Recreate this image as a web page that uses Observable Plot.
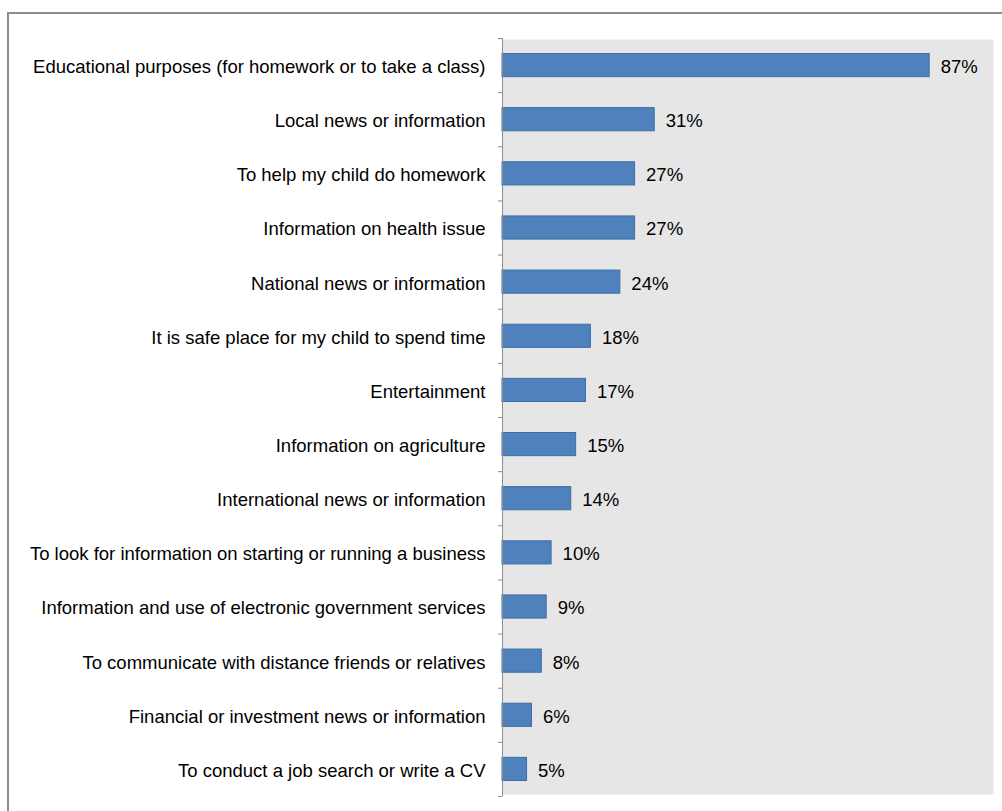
<!DOCTYPE html>
<html>
<head>
<meta charset="utf-8">
<script src="https://cdn.jsdelivr.net/npm/d3@7"></script>
<script src="https://cdn.jsdelivr.net/npm/@observablehq/plot@0.6"></script>
<style>
  html, body { margin: 0; padding: 0; background: #fff; overflow: hidden; }
  #wrap { position: relative; width: 1002px; height: 811px; }
  #border { position: absolute; left: 7px; top: 12px; width: 1010px; height: 820px; border: 2px solid #8c8c8c; box-sizing: border-box; }
  #chart { position: absolute; left: 0; top: 0; }
</style>
</head>
<body>
<div id="wrap">
  <div id="border"></div>
  <div id="chart"></div>
</div>
<script>
const categories = [
  "Educational purposes (for homework or to take a class)",
  "Local news or information",
  "To help my child do homework",
  "Information on health issue",
  "National news or information",
  "It is safe place for my child to spend time",
  "Entertainment",
  "Information on agriculture",
  "International news or information",
  "To look for information on starting or running a business",
  "Information and use of electronic government services",
  "To communicate with distance friends or relatives",
  "Financial or investment news or information",
  "To conduct a job search or write a CV"
];
const values = [87, 31, 27, 27, 24, 18, 17, 15, 14, 10, 9, 8, 6, 5];

const data = categories.map((c, i) => ({category: c, value: values[i]}));

const W = 1002, H = 811;
const mT = 38, mB = 15, mL = 502, mR = 9;
const step = (H - mT - mB) / categories.length;
const font = "'Liberation Sans', Arial, sans-serif";
const fs = 18.5;

const chart = Plot.plot({
  width: W,
  height: H,
  marginTop: mT,
  marginBottom: mB,
  marginLeft: mL,
  marginRight: mR,
  style: {fontFamily: font, fontSize: fs + "px", color: "#000", background: "transparent"},
  x: {domain: [0, 100], axis: null},
  y: {domain: categories, padding: 0, round: false, axis: null, label: null},
  marks: [
    Plot.frame({fill: "#e6e6e6", stroke: null, insetTop: 1, insetBottom: 2}),
    Plot.barX(data, {
      x: "value", y: "category",
      fill: "#4f81bd", stroke: "#3b6ea5", strokeWidth: 1,
      insetTop: 15.5, insetBottom: 15.5
    }),
    Plot.text(data, {
      x: "value", y: "category",
      text: d => d.value + "%",
      textAnchor: "start", dx: 11, dy: 1.5,
      fill: "#000", fontSize: fs
    }),
    Plot.axisY({
      tickSize: 0, tickPadding: 17, fontSize: fs, fill: "#000",
      textAnchor: "end", dy: 1.5, label: null
    }),
    Plot.axisY({
      tickSize: 4, tickFormat: () => "", stroke: "#8c8c8c", dy: -step / 2, label: null
    }),
    Plot.axisY([categories[categories.length - 1]], {
      tickSize: 4, tickFormat: () => "", stroke: "#8c8c8c", dy: step / 2, label: null
    }),
    Plot.ruleX([0], {stroke: "#8c8c8c", strokeWidth: 1})
  ]
});
document.getElementById("chart").appendChild(chart);
</script>
</body>
</html>
